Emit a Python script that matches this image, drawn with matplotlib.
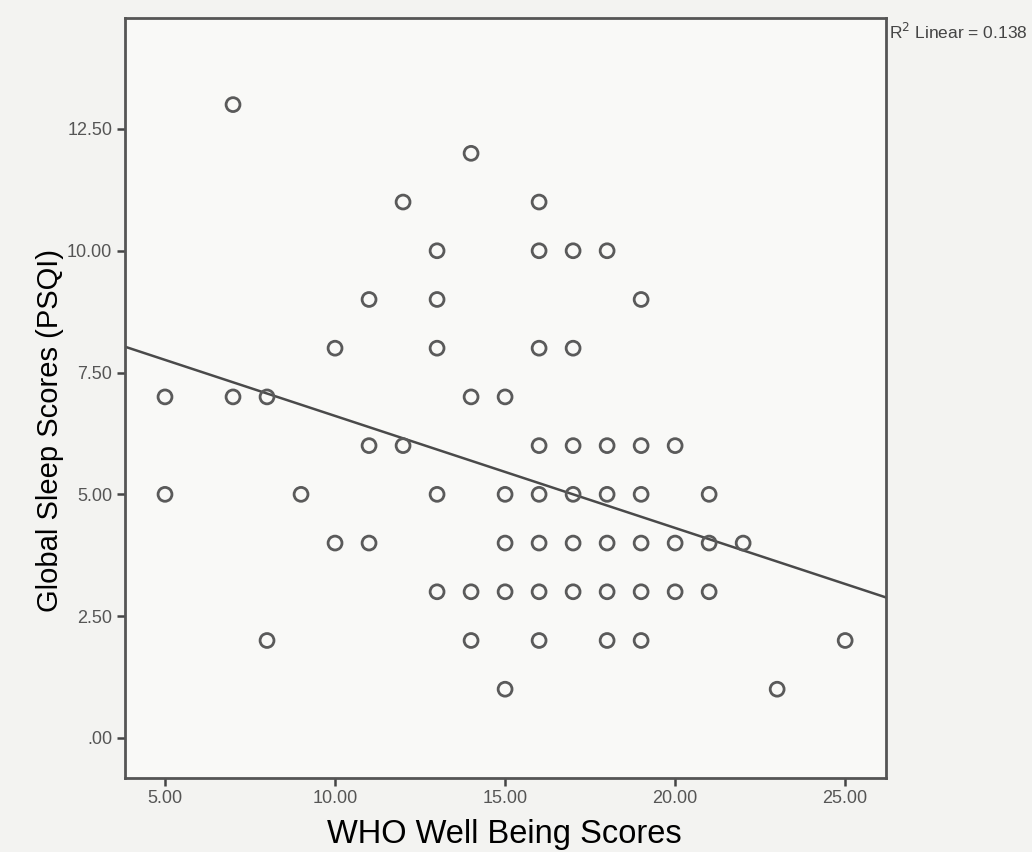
import matplotlib.pyplot as plt

# WHO well being score (x) vs global sleep score PSQI (y)
who_scores = [7, 14, 12, 16, 13, 16, 17, 18, 11, 13, 19, 10, 13, 16, 17,
              5, 7, 8, 14, 15, 11, 12, 16, 17, 18, 19, 20,
              5, 9, 13, 15, 16, 17, 18, 19, 21,
              10, 11, 15, 16, 17, 18, 19, 20, 21, 22,
              13, 14, 15, 16, 17, 18, 19, 20, 21,
              8, 14, 16, 18, 19, 25, 15, 23]
psqi_scores = [13, 12, 11, 11, 10, 10, 10, 10, 9, 9, 9, 8, 8, 8, 8,
               7, 7, 7, 7, 7, 6, 6, 6, 6, 6, 6, 6,
               5, 5, 5, 5, 5, 5, 5, 5, 5,
               4, 4, 4, 4, 4, 4, 4, 4, 4, 4,
               3, 3, 3, 3, 3, 3, 3, 3, 3,
               2, 2, 2, 2, 2, 2, 1, 1]

# fit line as drawn in the output
fit_intercept = 8.91
fit_slope = -0.23
r2_text = "R$^2$ Linear = 0.138"

x_ticks = [5, 10, 15, 20, 25]
x_labels = ["5.00", "10.00", "15.00", "20.00", "25.00"]
y_ticks = [0, 2.5, 5, 7.5, 10, 12.5]
y_labels = [".00", "2.50", "5.00", "7.50", "10.00", "12.50"]

plt.rcParams['font.family'] = ['Liberation Sans', 'DejaVu Sans']

fig = plt.figure(figsize=(10.32, 8.52), dpi=100, facecolor='#f3f3f1')
ax = fig.add_axes([0.121, 0.087, 0.7375, 0.892], facecolor='#f9f9f7')

xmin, xmax = 3.82, 26.2
ax.set_xlim(xmin, xmax)
ax.set_ylim(-0.82, 14.78)

ax.scatter(who_scores, psqi_scores, s=100, facecolors='none',
           edgecolors='#5a5a5a', linewidths=2.0, zorder=3)

ax.plot([xmin, xmax], [fit_intercept + fit_slope * xmin, fit_intercept + fit_slope * xmax],
        color='#4a4a4a', linewidth=1.8, zorder=2)

ax.set_xticks(x_ticks)
ax.set_xticklabels(x_labels)
ax.set_yticks(y_ticks)
ax.set_yticklabels(y_labels)
ax.tick_params(direction='out', length=6, width=1.8, color='#444444',
               labelsize=13, labelcolor='#555555', pad=3)

for sp in ax.spines.values():
    sp.set_color('#555555')
    sp.set_linewidth(2)

fig.text(0.489, 0.011, "WHO Well Being Scores", fontsize=23.5, color='black',
         ha='center', va='baseline')
fig.text(0.048, 0.495, "Global Sleep Scores (PSQI)", fontsize=21, color='black',
         ha='center', va='center', rotation=90)

fig.text(0.861, 0.963, r2_text, fontsize=12.5, color='#444444', ha='left', va='center')

fig.savefig("out.png", dpi=100, facecolor=fig.get_facecolor())
